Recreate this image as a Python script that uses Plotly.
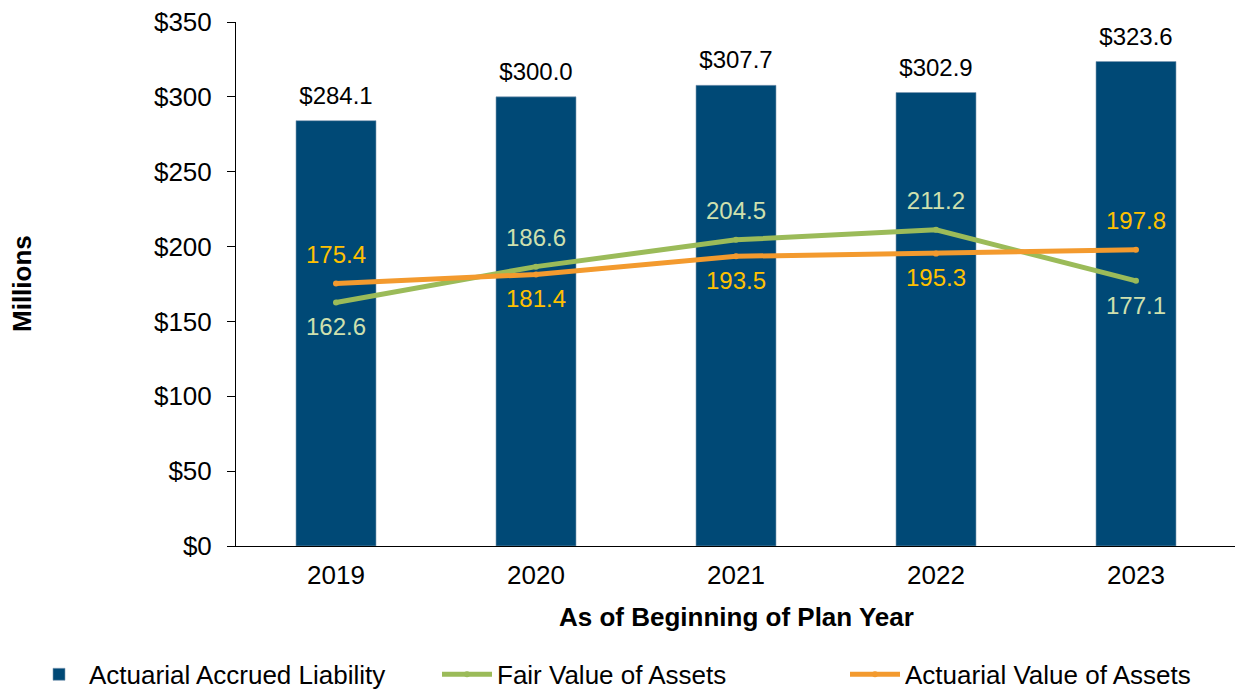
import plotly.graph_objects as go

years = ["2019", "2020", "2021", "2022", "2023"]
accrued_liability = [284.1, 300.0, 307.7, 302.9, 323.6]
fair_value = [162.6, 186.6, 204.5, 211.2, 177.1]
actuarial_value = [175.4, 181.4, 193.5, 195.3, 197.8]

fair_pos = ["bottom center", "top center", "top center", "top center", "bottom center"]
act_pos = ["top center", "bottom center", "bottom center", "bottom center", "top center"]

FONT = "Liberation Sans, Arial, sans-serif"
GREEN = "#9BBB59"
ORANGE = "#F39A2E"

fig = go.Figure()

fig.add_trace(go.Bar(
    x=years, y=accrued_liability, name="Actuarial Accrued Liability",
    marker=dict(color="#004976", line=dict(color="#7f9bb3", width=0.6)),
    width=0.4,
))

fig.add_trace(go.Scatter(
    x=years, y=fair_value, name="Fair Value of Assets",
    mode="lines+markers",
    line=dict(color=GREEN, width=5),
    marker=dict(size=6, color=GREEN),
))

fig.add_trace(go.Scatter(
    x=years, y=actuarial_value, name="Actuarial Value of Assets",
    mode="lines+markers",
    line=dict(color=ORANGE, width=5),
    marker=dict(size=6, color=ORANGE),
))

# data labels (transparent markers used to set the label offset)
fig.add_trace(go.Scatter(
    x=years, y=accrued_liability, mode="markers+text", showlegend=False,
    hoverinfo="skip", marker=dict(size=16, opacity=0),
    text=[f"${v:.1f}" for v in accrued_liability], textposition="top center",
    textfont=dict(color="black", size=24, family=FONT),
))
fig.add_trace(go.Scatter(
    x=years, y=fair_value, mode="markers+text", showlegend=False,
    hoverinfo="skip", marker=dict(size=22, opacity=0),
    text=[f"{v:.1f}" for v in fair_value], textposition=fair_pos,
    textfont=dict(color="#CFE0AE", size=24, family=FONT),
))
fig.add_trace(go.Scatter(
    x=years, y=actuarial_value, mode="markers+text", showlegend=False,
    hoverinfo="skip", marker=dict(size=22, opacity=0),
    text=[f"{v:.1f}" for v in actuarial_value], textposition=act_pos,
    textfont=dict(color="#FFC000", size=24, family=FONT),
))

fig.update_layout(
    width=1243, height=692,
    margin=dict(l=228, r=15, t=14, b=154, autoexpand=False),
    plot_bgcolor="white", paper_bgcolor="white",
    font=dict(family=FONT, size=26, color="black"),
    showlegend=True,
    legend=dict(
        orientation="h", x=-0.207, xanchor="left", y=-0.245, yanchor="middle",
        entrywidth=343, entrywidthmode="pixels",
        font=dict(size=26, family=FONT), itemwidth=50,
    ),
    annotations=[
        dict(text="<b>Millions</b>", textangle=-90, xref="paper", yref="paper",
             x=-0.214, y=0.5, xanchor="center", yanchor="middle", showarrow=False,
             font=dict(size=26)),
        dict(text="<b>As of Beginning of Plan Year</b>", xref="paper", yref="paper",
             x=0.5, y=-0.1355, xanchor="center", yanchor="middle", showarrow=False,
             font=dict(size=26)),
    ],
)

fig.update_xaxes(
    showline=True, linecolor="black", linewidth=1,
    ticks="", tickfont=dict(size=26), automargin=False, ticklabelstandoff=6,
)

fig.update_yaxes(
    range=[0, 350], dtick=50, tickprefix="$",
    showline=True, linecolor="black", linewidth=1,
    ticks="outside", ticklen=8, tickcolor="black",
    showgrid=False, zeroline=False, tickfont=dict(size=26), automargin=False,
    ticklabelstandoff=10, ticklabeloverflow="allow",
)

fig.write_html("out.html")
